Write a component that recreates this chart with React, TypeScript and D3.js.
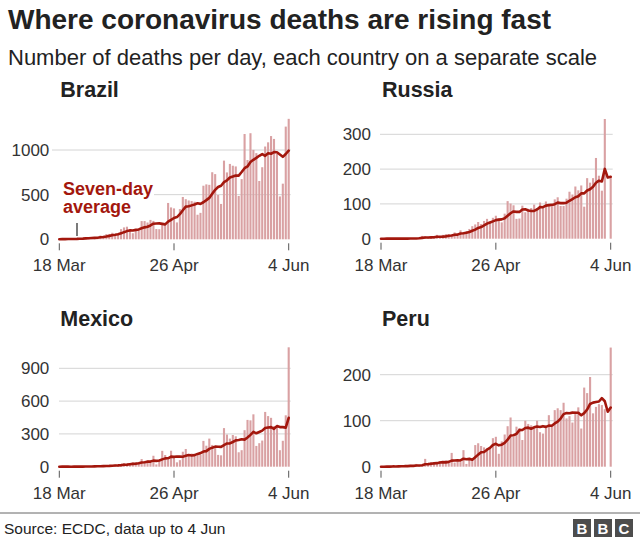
import React from 'react';
import * as d3 from 'd3';

// ---- Data (daily deaths, 18 Mar – 4 Jun 2020, ECDC) ----
const startDate = new Date(2020, 2, 18);
const endDate = new Date(2020, 5, 4);
const xTickDates = [new Date(2020, 2, 18), new Date(2020, 3, 26), new Date(2020, 5, 4)];
const xTickLabels = ['18 Mar', '26 Apr', '4 Jun'];

const countries = ['Brazil', 'Russia', 'Mexico', 'Peru'];

const brazil = [1, 2, 3, 5, 7, 7, 9, 12, 11, 20, 15, 22, 22, 23, 42, 40, 58, 60, 73, 54, 67, 114, 133, 141, 115, 68, 99, 105, 204, 204, 188, 217, 206, 115, 113, 166, 165, 407, 357, 346, 189, 338, 474, 449, 435, 428, 421, 275, 296, 600, 615, 610, 751, 730, 496, 396, 881, 749, 844, 824, 816, 485, 674, 1179, 888, 1188, 1001, 965, 653, 807, 1039, 1086, 1156, 1124, 956, 480, 623, 1262, 1349];
const russia = [0, 0, 1, 0, 0, 0, 0, 0, 1, 1, 2, 1, 0, 4, 8, 7, 2, 4, 4, 11, 2, 11, 13, 13, 12, 18, 13, 24, 18, 22, 28, 36, 41, 48, 42, 51, 57, 50, 60, 66, 58, 47, 72, 108, 101, 96, 57, 58, 95, 76, 86, 88, 98, 88, 104, 94, 107, 96, 93, 113, 119, 94, 94, 115, 135, 127, 150, 139, 153, 92, 174, 161, 174, 232, 181, 138, 344, 0, 176];
const mexico = [0, 1, 0, 0, 0, 1, 2, 1, 1, 4, 4, 2, 4, 8, 6, 8, 13, 9, 15, 19, 15, 20, 33, 20, 34, 39, 37, 38, 70, 44, 60, 40, 100, 21, 60, 145, 107, 65, 146, 85, 40, 60, 137, 162, 116, 120, 107, 117, 110, 236, 192, 257, 199, 175, 108, 104, 353, 294, 257, 290, 278, 132, 151, 334, 428, 424, 479, 190, 215, 239, 501, 463, 447, 371, 364, 151, 237, 470, 1092];
const peru = [0, 0, 1, 0, 2, 0, 2, 1, 2, 2, 4, 2, 6, 2, 4, 17, 4, 10, 8, 9, 12, 9, 14, 11, 30, 9, 12, 10, 36, 6, 16, 18, 47, 51, 45, 42, 40, 43, 62, 65, 28, 55, 70, 88, 107, 65, 87, 84, 58, 100, 93, 90, 87, 100, 75, 72, 89, 112, 87, 123, 127, 123, 139, 105, 110, 96, 120, 129, 83, 172, 160, 195, 116, 130, 136, 134, 125, 0, 259];

const brazilTicks = [0, 500, 1000];
const russiaTicks = [0, 100, 200, 300];
const mexicoTicks = [0, 300, 600, 900];
const peruTicks = [0, 100, 200];

const seriesList = [brazil, russia, mexico, peru];
const tickList = [brazilTicks, russiaTicks, mexicoTicks, peruTicks];

// ---- Layout ----
const FONT = '"Liberation Sans", Arial, Helvetica, sans-serif';
const BAR = '#d9a1a3';
const LINE = '#a3170d';
const layouts = [
  { x0: 59.3, x1: 288.7, y0: 239.3, titleY: 97, gridLeft: 52 },
  { x0: 381, x1: 610.7, y0: 238.7, titleY: 97, gridLeft: 380 },
  { x0: 59.3, x1: 288.7, y0: 466.7, titleY: 326, gridLeft: 59 },
  { x0: 381, x1: 610.7, y0: 466.7, titleY: 326, gridLeft: 380 },
];
// pixel position of the top tick of each panel
const topTickPx = [150, 134.3, 368.3, 374.7];

const days = d3.timeDay.range(startDate, d3.timeDay.offset(endDate, 1));

function rolling(values: number[]) {
  return values.map((_, i) => d3.mean(values.slice(Math.max(0, i - 6), i + 1)) as number);
}

function Panel({ idx }: { idx: number }) {
  const L = layouts[idx];
  const values = seriesList[idx];
  const ticks = tickList[idx];
  const x = d3.scaleTime().domain([startDate, endDate]).range([L.x0, L.x1]);
  const y = d3.scaleLinear().domain([0, ticks[ticks.length - 1]]).range([L.y0, topTickPx[idx]]);
  const avg = rolling(values);
  const line = d3
    .line<number>()
    .x((_, i) => x(days[i]))
    .y((d) => y(d));
  const bw = 2.1;
  return (
    <g>
      <text x={L.x0 + 1} y={L.titleY} fontFamily={FONT} fontWeight="bold" fontSize={21.5} fill="#222">
        {countries[idx]}
      </text>
      {ticks.map((t) =>
        t === 0 ? null : (
          <line key={'g' + t} x1={L.gridLeft} x2={L.x1 + 2} y1={y(t)} y2={y(t)} stroke="#d4d4d4" strokeWidth={1} />
        )
      )}
      {ticks.map((t) => (
        <text key={'t' + t} x={L.x0 - 10} y={y(t)} dy="0.35em" textAnchor="end" fontFamily={FONT} fontSize={17} fill="#333">
          {t}
        </text>
      ))}
      {xTickDates.map((d, i) => (
        <g key={'x' + i}>
          <line x1={x(d)} x2={x(d)} y1={L.y0 + 4} y2={L.y0 + 11} stroke="#555" strokeWidth={1} />
          <text x={x(d)} y={L.y0 + 32} textAnchor="middle" fontFamily={FONT} fontSize={17} fill="#333">
            {xTickLabels[i]}
          </text>
        </g>
      ))}
      {idx === 0 && (
        <g>
          <rect x={50} y={178} width={104} height={40} fill="#fff" />
          <text x={63} y={195} fontFamily={FONT} fontWeight="bold" fontSize={18} fill={LINE}>
            Seven-day
          </text>
          <text x={63} y={213} fontFamily={FONT} fontWeight="bold" fontSize={18} fill={LINE}>
            average
          </text>
          <line x1={77} x2={77} y1={223} y2={236} stroke="#222" strokeWidth={1.2} />
        </g>
      )}
      {values.map((v, i) => (
        <rect key={i} x={x(days[i]) - bw / 2} width={bw} y={y(v)} height={Math.max(0, L.y0 - y(v))} fill={BAR} />
      ))}
      <path d={line(avg) || ''} fill="none" stroke={LINE} strokeWidth={2.6} strokeLinejoin="round" strokeLinecap="round" />
    </g>
  );
}

export default function App() {
  return (
    <div style={{ position: 'absolute', left: 0, top: 0 }}>
      <svg width={640} height={540} style={{ display: 'block', background: '#fff' }}>
        <text x={8} y={29} fontFamily={FONT} fontWeight="bold" fontSize={28} fill="#222">
          Where coronavirus deaths are rising fast
        </text>
        <text x={8} y={65} fontFamily={FONT} fontSize={22} fill="#222">
          Number of deaths per day, each country on a separate scale
        </text>
        {[0, 1, 2, 3].map((i) => (
          <Panel key={i} idx={i} />
        ))}
        <line x1={0} x2={640} y1={513} y2={513} stroke="#666" strokeWidth={1} />
        <text x={4} y={534} fontFamily={FONT} fontSize={15.5} fill="#222">
          Source: ECDC, data up to 4 Jun
        </text>
        {['B', 'B', 'C'].map((c, i) => (
          <g key={i}>
            <rect x={573 + i * 21} y={519} width={18} height={18} fill="#4d4d4d" />
            <text x={573 + i * 21 + 9} y={533.5} textAnchor="middle" fontFamily={FONT} fontWeight="bold" fontSize={15} fill="#fff">
              {c}
            </text>
          </g>
        ))}
      </svg>
    </div>
  );
}
